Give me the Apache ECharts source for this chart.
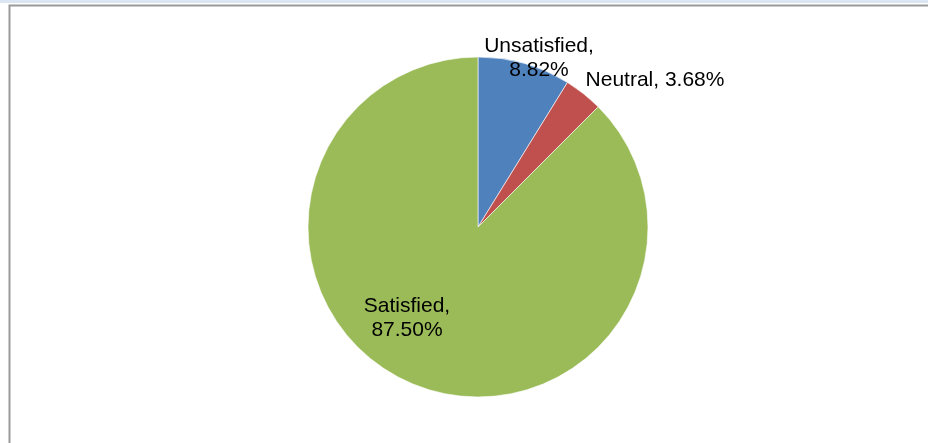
<!DOCTYPE html>
<html><head><meta charset="utf-8">
<script src="https://cdn.jsdelivr.net/npm/echarts@6/dist/echarts.min.js"></script>
<style>html,body{margin:0;padding:0;background:#fff}#c{width:928px;height:443px}</style>
</head><body><div id="c"></div>
<script>
const categories = ['Unsatisfied', 'Neutral', 'Satisfied'];
const values = [8.82, 3.68, 87.50];
const colors = ['#4f81bd', '#c0504d', '#9bbb59'];
const labelPos = [[539, 58], [655, 80], [407, 318]];

const labelStyle = {
  show: true,
  position: 'inside',
  color: '#000',
  fontFamily: 'Liberation Sans',
  fontSize: 21,
  lineHeight: 24.5,
  align: 'center'
};

const chart = echarts.init(document.getElementById('c'));
chart.setOption({
  animation: false,
  graphic: [
    {type: 'rect', shape: {x: 0, y: 0, width: 928, height: 3}, style: {fill: '#dce6f2'}},
    {type: 'polyline', shape: {points: [[9.5, 443], [9.5, 5.5], [928, 5.5]]}, style: {stroke: '#9a9a9a', lineWidth: 2, fill: null}}
  ],
  series: [{
    type: 'pie',
    center: [478, 227],
    radius: 170,
    startAngle: 90,
    clockwise: true,
    itemStyle: {borderColor: '#ffffff', borderWidth: 0.6},
    label: Object.assign({}, labelStyle, {
      formatter: p => p.dataIndex === 1 ? p.name + ', ' + p.value.toFixed(2) + '%' : p.name + ',\n' + p.value.toFixed(2) + '%'
    }),
    labelLine: {show: false},
    labelLayout: p => ({x: labelPos[p.dataIndex][0], y: labelPos[p.dataIndex][1], align: 'center', verticalAlign: 'middle'}),
    data: categories.map((c, i) => ({name: c, value: values[i], itemStyle: {color: colors[i]}, label: {fontSize: 21, lineHeight: 24.5, fontFamily: 'Liberation Sans'}}))
  }]
});
</script></body></html>
